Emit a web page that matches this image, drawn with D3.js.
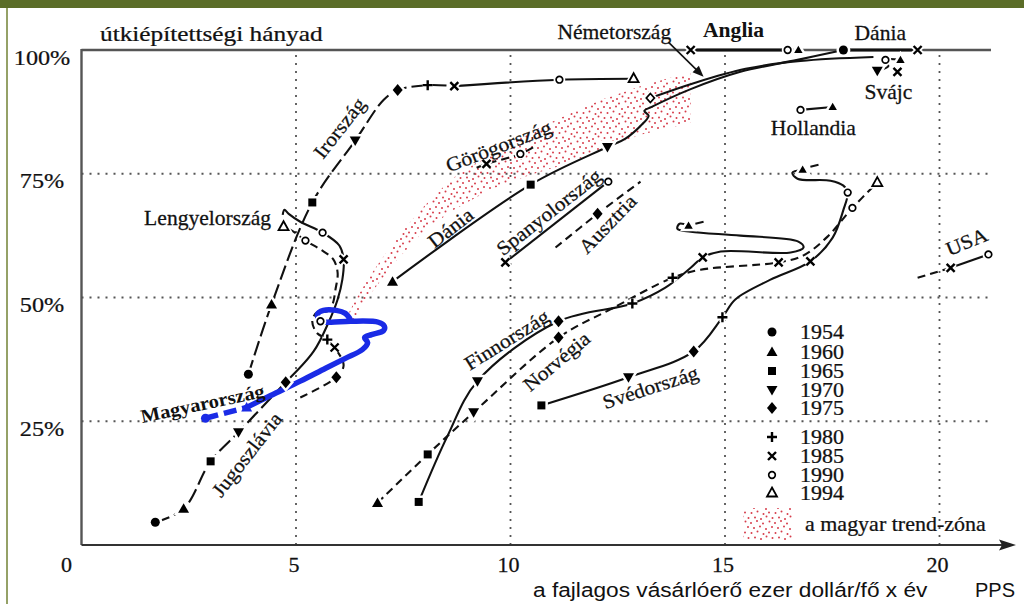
<!DOCTYPE html>
<html><head><meta charset="utf-8">
<script src="https://cdn.jsdelivr.net/npm/d3@7"></script>
<style>
html,body{margin:0;padding:0;background:#fff;}
svg{display:block;}
</style></head><body>
<svg id="chart" width="1024" height="604"></svg>
<script>
// ---- axis ticks ----
const X_TICKS = [0, 5, 10, 15, 20];
const X_TICK_LABELS = ['0', '5', '10', '15', '20'];
const Y_TICKS = [100, 75, 50, 25];
const Y_TICK_LABELS = ['100%', '75%', '50%', '25%'];
const YEARS = ['1954', '1960', '1965', '1970', '1975', '1980', '1985', '1990', '1994'];

// ---- country paths: [purchasing power (k$ PPS), road ratio (%), year mark] ----
const irorszag1 = [[3.89,34.5,'1954'],[4.43,48.6,'1960'],[5.38,69.2,'1965'],[6.38,81.7,'1970'],[7.04,89.9,''],[7.37,91.9,'1975'],[8.07,92.9,'1980'],[8.69,92.7,'1985']];
const irorszag2 = [[8.69,92.7,''],[11.14,94.0,'1990'],[12.87,94.2,'1994']];

const magyar1 = [[2.89,25.6,'1954'],[3.85,27.8,'1960']];
const magyar2 = [[3.85,27.8,''],[4.41,30.2,''],[5.10,33.1,''],[5.69,35.7,''],[6.15,37.7,''],[6.55,39.5,''],[6.67,40.9,''],[6.60,41.9,''],[6.76,42.5,''],[7.04,43.3,''],[7.06,44.2,''],[6.92,45.0,''],[6.27,45.2,''],[5.80,45.0,''],[5.57,45.2,''],[5.50,46.6,''],[5.64,47.4,''],[5.94,47.4,''],[6.15,46.8,''],[6.25,45.8,'']];

const jugo1 = [[1.72,4.6,'1954'],[2.38,7.3,'1960'],[3.01,16.9,'1965'],[3.66,22.8,'1970'],[4.76,32.9,'1975']];
const jugo2 = [[4.76,32.9,''],[5.41,39.1,''],[5.76,45.0,''],[5.97,49.6,''],[6.08,53.6,''],[6.11,57.7,'1985'],[6.01,60.5,''],[5.62,63.1,'1990'],[5.10,65.3,''],[4.83,66.9,''],[4.73,67.7,''],[4.69,66.7,'']];

const lengyel = [[5.10,29.8,''],[5.94,33.9,'1975'],[6.11,36.3,''],[5.90,39.9,'1985'],[5.73,41.5,'1980'],[5.48,42.9,''],[5.38,45.4,''],[5.52,47.2,''],[5.73,47.2,''],[5.85,48.6,''],[5.92,51.6,''],[5.97,55.0,''],[5.87,57.7,''],[5.57,59.7,''],[5.22,61.5,'1990'],[4.94,63.3,''],[4.71,64.3,'1994']];

const gorog = [[9.21,76.2,''],[9.44,77.0,'1985'],[10.23,79.0,'1990'],[10.54,80.4,'']];

const dania = [[7.25,53.2,'1960'],[10.47,72.8,'1965'],[12.26,80.4,'1970'],[12.68,82.1,''],[13.08,85.1,''],[13.22,86.7,''],[13.12,87.7,''],[13.29,88.5,''],[14.20,92.1,''],[15.36,95.6,''],[16.69,98.0,''],[17.76,100,'1954']];
const daniaTop = [[17.76,100,''],[19.49,100,'1985']];

const nemet = [[13.26,90.3,'odia'],[14.27,93.3,''],[15.48,96.2,''],[16.76,97.8,''],[18.46,98.6,'']];
const nemetArrow = [[13.68,101.6],[14.50,94.6]];

const anglia = [[14.20,100,'1985'],[16.46,100,'1990']];
const svajc = [[18.55,95.8,'1970'],[18.81,96.8,''],[18.74,98.0,'1990'],[19.09,98.0,'tri_s']];
const hollandia = [[16.76,87.9,'1990'],[17.51,88.5,'tri_s']];
const spanyol = [[9.88,57.1,'1985'],[12.28,73.4,'1990']];
const ausztria = [[11.05,60.1,''],[12.03,66.9,'1975'],[13.03,73.4,'']];

const finn = [[7.86,8.7,'1965'],[8.53,22.0,''],[9.23,33.1,'1970'],[11.12,45.2,'1975'],[12.84,48.8,'1980'],[13.61,52.0,''],[14.20,56.0,''],[14.48,58.1,'1985'],[14.90,59.3,''],[16.53,59.1,''],[16.83,60.1,''],[16.71,61.3,''],[15.36,62.5,''],[14.20,63.3,''],[13.89,63.9,''],[13.94,64.9,''],[14.15,64.5,'tri_s']];
const finnEnd = [[14.31,64.9,''],[14.50,65.3,'']];

const norveg = [[6.90,8.5,'1960'],[8.07,18.3,'1965'],[9.14,26.8,'1970'],[11.12,41.9,'1975'],[12.33,47.6,''],[13.78,54.0,'1980'],[14.43,55.6,''],[16.25,57.1,'1985'],[16.83,58.5,''],[17.39,62.3,''],[17.97,68.1,'1990'],[18.55,73.2,'1994']];

const sved = [[10.72,28.2,'1965'],[12.75,33.9,'1970'],[14.27,39.1,'1975'],[14.94,46.0,'1980'],[15.24,49.6,''],[16.06,53.6,''],[16.99,57.3,'1985'],[17.51,62.1,''],[17.76,67.7,''],[17.86,71.2,'1990'],[17.76,72.6,''],[17.46,73.6,''],[16.69,74.0,''],[16.57,75.2,''],[16.81,75.8,'tri_s']];
const svedEnd = [[16.99,76.4,''],[17.18,76.8,'']];

const usa1 = [[19.49,54.0,''],[20.26,56.0,'1985']];
const usa2 = [[20.26,56.0,''],[21.14,58.7,'1990']];

const extraMarks = [[5.57,45.2,'1990'],[16.71,100,'tri_s'],[19.02,95.6,'1985']];

// ---- Hungarian trend zone: upper and lower edges ----
const trendUpper = [[6.18,46.0],[6.39,49.6],[6.74,54.6],[7.32,61.7],[7.90,67.7],[8.60,73.8],[9.30,77.8],[10.23,82.5],[11.17,86.3],[12.10,89.9],[13.03,92.7],[14.20,95.6]];
const trendLower = [[6.32,45.2],[6.78,51.2],[7.32,57.3],[7.90,62.7],[8.60,67.3],[9.53,71.8],[10.47,74.8],[11.24,76.8],[12.10,79.8],[13.03,82.9],[14.20,85.3]];

// ---- labels placed at data coordinates ----
const countryLabels = [
  {t:'Irország', x:6.01, y:84.3, a:-52},
  {t:'Lengyelország', x:2.94, y:66.1, a:0},
  {t:'Magyarország', x:2.82, y:28.6, a:-12, bold:true, size:19},
  {t:'Jugoszlávia', x:3.85, y:18.3, a:-52},
  {t:'Görögország', x:9.72, y:80.6, a:-21},
  {t:'Dánia', x:8.60, y:64.1, a:-38},
  {t:'Spanyolország', x:10.89, y:67.3, a:-38},
  {t:'Ausztria', x:12.26, y:64.9, a:-46},
  {t:'Finnország', x:9.91, y:41.5, a:-32},
  {t:'Norvégia', x:11.07, y:37.1, a:-40},
  {t:'Svédország', x:13.26, y:31.9, a:-18},
  {t:'USA', x:20.63, y:61.3, a:-22},
  {t:'Németország', x:12.42, y:103.6, a:0},
  {t:'Anglia', x:15.20, y:104.0, a:0, bold:true},
  {t:'Dánia', x:18.62, y:103.4, a:0},
  {t:'Svájc', x:18.81, y:91.5, a:0},
  {t:'Hollandia', x:17.06, y:84.3, a:0}
];

// ---------------------------------------------------------------
const x = d3.scaleLinear().domain([0, 20]).range([81.5, 939.5]);
const y = d3.scaleLinear().domain([0, 100]).range([545, 50]);
const svg = d3.select('#chart');
const SERIF = '"Liberation Serif", "Times New Roman", serif';
const SANS = '"Liberation Sans", Arial, sans-serif';

// frame decoration
svg.append('rect').attr('x', 0).attr('y', 0).attr('width', 1024).attr('height', 8).attr('fill', '#5b6d28');
svg.append('rect').attr('x', 6).attr('y', 8).attr('width', 2).attr('height', 596).attr('fill', '#95a167');

// stippled texture for the trend zone
const defs = svg.append('defs');
const pat = defs.append('pattern').attr('id', 'trendDots').attr('patternUnits', 'userSpaceOnUse')
  .attr('width', 24).attr('height', 20);
[[1.5,1.5],[7,3],[13,1],[19,3.5],[4,7],[10,8],[16,6.5],[22,9],
 [1,12.5],[7.5,13],[13.5,11.5],[19.5,14],[4.5,18],[11,17.5],[17,19],[22.5,16.5]].forEach(p =>
  pat.append('circle').attr('cx', p[0]).attr('cy', p[1]).attr('r', 1).attr('fill', '#d63c4a'));

// gridlines
const grid = svg.append('g').attr('stroke', '#555').attr('stroke-width', 1.8).attr('stroke-dasharray', '2,6');
X_TICKS.filter(v => v > 0).forEach(v => grid.append('line')
  .attr('x1', x(v)).attr('x2', x(v)).attr('y1', y(0)).attr('y2', y(100)));
Y_TICKS.filter(v => v < 100).forEach(v => grid.append('line')
  .attr('x1', x(0)).attr('x2', x(21.2)).attr('y1', y(v)).attr('y2', y(v)));

// trend zone
const zonePts = trendUpper.concat(trendLower.slice().reverse());
svg.append('path')
  .attr('d', d3.line().x(d => x(d[0])).y(d => y(d[1])).curve(d3.curveLinearClosed)(zonePts))
  .attr('fill', 'url(#trendDots)');

// axes
svg.append('line').attr('x1', x(0)).attr('x2', x(21.2)).attr('y1', y(100)).attr('y2', y(100))
  .attr('stroke', '#555').attr('stroke-width', 2.4);
svg.append('line').attr('x1', x(0)).attr('x2', x(0)).attr('y1', y(100) - 1).attr('y2', y(0))
  .attr('stroke', '#555').attr('stroke-width', 2.4);
svg.append('line').attr('x1', x(0)).attr('x2', 1003).attr('y1', y(0)).attr('y2', y(0))
  .attr('stroke', '#333').attr('stroke-width', 2);
svg.append('path').attr('d', `M1016,${y(0)}L999,${y(0)-5.5}L1002,${y(0)}L999,${y(0)+5.5}Z`).attr('fill', '#222');

// text helper
function txt(g, s, px, py, o) {
  o = o || {};
  return g.append('text')
    .attr('transform', `translate(${px},${py}) rotate(${o.a || 0}) scale(${o.sx || 1.08},1)`)
    .attr('text-anchor', o.anchor || 'middle')
    .attr('dy', o.dy == null ? '0.35em' : o.dy)
    .attr('font-family', o.font || SERIF)
    .attr('font-size', o.size || 20)
    .attr('font-weight', o.bold ? 'bold' : 'normal')
    .attr('fill', o.fill || '#111')
    .attr('stroke', o.fill || '#111')
    .attr('stroke-width', o.sw == null ? 0.25 : o.sw)
    .text(s);
}

const tg = svg.append('g');
Y_TICKS.forEach((v, i) => txt(tg, Y_TICK_LABELS[i], 42, y(v) + 7, {size: 22, sx: 1.1}));
X_TICKS.forEach((v, i) => txt(tg, X_TICK_LABELS[i], v === 0 ? x(0) - 15 : x(v) - 2, 565, {size: 21, sx: 1.05}));
txt(tg, 'útkiépítettségi hányad', 100, 33, {size: 22, sx: 1.15, anchor: 'start'});
txt(tg, 'a fajlagos vásárlóerő ezer dollár/fő x év', 533, 590, {size: 21, sx: 1.08, anchor: 'start', font: SANS, sw: 0});
txt(tg, 'PPS', 975, 590, {size: 20, sx: 1, anchor: 'start', font: SANS, sw: 0});

// markers
function mark(g, t, cx, cy, color, halo) {
  color = color || '#000';
  const s = g.append('g').attr('transform', `translate(${cx},${cy})`);
  const shapes = {
    '1960': 'M0,-5.5L5.5,4L-5.5,4Z',
    '1970': 'M-5.5,-4L5.5,-4L0,5.5Z',
    '1975': 'M0,-6L5,0L0,6L-5,0Z',
    '1994': 'M0,-5.5L5,3.5L-5,3.5Z',
    'odia': 'M0,-4.5L4,0L0,4.5L-4,0Z',
    'tri_s': 'M0,-4.2L4.2,3L-4.2,3Z',
    '1965': 'M-4,-4H4V4H-4Z',
    '1980': 'M-5,0H5M0,-5V5',
    '1985': 'M-4,-4L4,4M4,-4L-4,4'
  };
  const open = (t === '1990' || t === '1994' || t === 'odia');
  const stroked = (t === '1980' || t === '1985');
  if (halo) {
    if (t === '1954' || t === '1990') s.append('circle').attr('r', t === '1954' ? 4.5 : 3.4)
      .attr('fill', '#fff').attr('stroke', '#fff').attr('stroke-width', 5);
    else s.append('path').attr('d', shapes[t]).attr('fill', '#fff').attr('stroke', '#fff').attr('stroke-width', stroked ? 6 : 5);
  }
  if (t === '1954') s.append('circle').attr('r', 4.5).attr('fill', color);
  else if (t === '1990') s.append('circle').attr('r', 3.3).attr('fill', '#fff').attr('stroke', color).attr('stroke-width', 1.7);
  else if (stroked) s.append('path').attr('d', shapes[t]).attr('fill', 'none').attr('stroke', color).attr('stroke-width', 2.4);
  else if (open) s.append('path').attr('d', shapes[t]).attr('fill', '#fff').attr('stroke', color).attr('stroke-width', 1.8);
  else s.append('path').attr('d', shapes[t]).attr('fill', color);
}

// country lines
const DASH = {solid: null, dash: '8,5', longdash: '15,5'};
const smooth = d3.curveCatmullRom.alpha(0.5);
const lineOf = d3.line().x(d => x(d[0])).y(d => y(d[1])).curve(smooth);
const paths = [
  {pts: irorszag1, style: 'longdash'},
  {pts: irorszag2, style: 'solid'},
  {pts: jugo1, style: 'longdash'},
  {pts: jugo2, style: 'solid'},
  {pts: lengyel, style: 'dash'},
  {pts: gorog, style: 'dash'},
  {pts: dania, style: 'solid'},
  {pts: daniaTop, style: 'solid', w: 2.8},
  {pts: nemet, style: 'solid'},
  {pts: anglia, style: 'solid', w: 3.2},
  {pts: svajc, style: 'solid'},
  {pts: hollandia, style: 'solid'},
  {pts: spanyol, style: 'solid'},
  {pts: ausztria, style: 'dash'},
  {pts: finn, style: 'solid'},
  {pts: finnEnd, style: 'solid'},
  {pts: norveg, style: 'dash'},
  {pts: sved, style: 'solid'},
  {pts: svedEnd, style: 'solid'},
  {pts: usa1, style: 'dash'},
  {pts: usa2, style: 'solid'}
];
const lg = svg.append('g').attr('fill', 'none');
paths.forEach(p => lg.append('path').attr('d', lineOf(p.pts))
  .attr('stroke', '#111').attr('stroke-width', p.w || 2.1)
  .attr('stroke-dasharray', DASH[p.style]).attr('stroke-linecap', 'butt'));

// Németország pointer arrow
const a0 = [x(nemetArrow[0][0]), y(nemetArrow[0][1])], a1 = [x(nemetArrow[1][0]), y(nemetArrow[1][1])];
const ang = Math.atan2(a1[1] - a0[1], a1[0] - a0[0]);
lg.append('line').attr('x1', a0[0]).attr('y1', a0[1])
  .attr('x2', a1[0] - 8 * Math.cos(ang)).attr('y2', a1[1] - 8 * Math.sin(ang))
  .attr('stroke', '#111').attr('stroke-width', 1.6);
svg.append('path').attr('fill', '#111')
  .attr('transform', `translate(${a1[0]},${a1[1]}) rotate(${ang * 180 / Math.PI})`)
  .attr('d', 'M0,0L-11,-4.5L-11,4.5Z');

// Magyarország (blue)
const BLUE = '#1a2be6';
const bg = svg.append('g').attr('fill', 'none');
bg.append('path').attr('d', lineOf(magyar1)).attr('stroke', BLUE).attr('stroke-width', 5.5)
  .attr('stroke-dasharray', '13,6');
bg.append('path').attr('d', lineOf(magyar2)).attr('stroke', BLUE).attr('stroke-width', 5.5)
  .attr('stroke-linejoin', 'round').attr('stroke-linecap', 'round');

// markers on paths
const mg = svg.append('g');
paths.forEach(p => p.pts.forEach(d => { if (d[2]) mark(mg, d[2], x(d[0]), y(d[1]), '#000', true); }));
extraMarks.forEach(d => mark(mg, d[2], x(d[0]), y(d[1]), '#000', true));
magyar1.forEach(d => { if (d[2]) mark(mg, d[2], x(d[0]), y(d[1]), BLUE, false); });

// country labels
const cg = svg.append('g');
countryLabels.forEach(l => txt(cg, l.t, x(l.x), y(l.y), {a: l.a, size: l.size || 20, bold: l.bold, sw: l.bold ? 0 : 0.25}));

// legend
const leg = svg.append('g');
const legRows = [332, 352, 371, 390, 408, 437, 456, 475, 493];
YEARS.forEach((yr, i) => {
  mark(leg, yr, 772, legRows[i], '#000', false);
  txt(leg, yr, 800, legRows[i], {anchor: 'start', size: 20, sx: 1.1});
});
leg.append('rect').attr('x', 743).attr('y', 508).attr('width', 49).attr('height', 32).attr('fill', 'url(#trendDots)');
txt(leg, 'a magyar trend-zóna', 805, 524, {anchor: 'start', size: 20, sx: 1.1});
</script></body></html>
